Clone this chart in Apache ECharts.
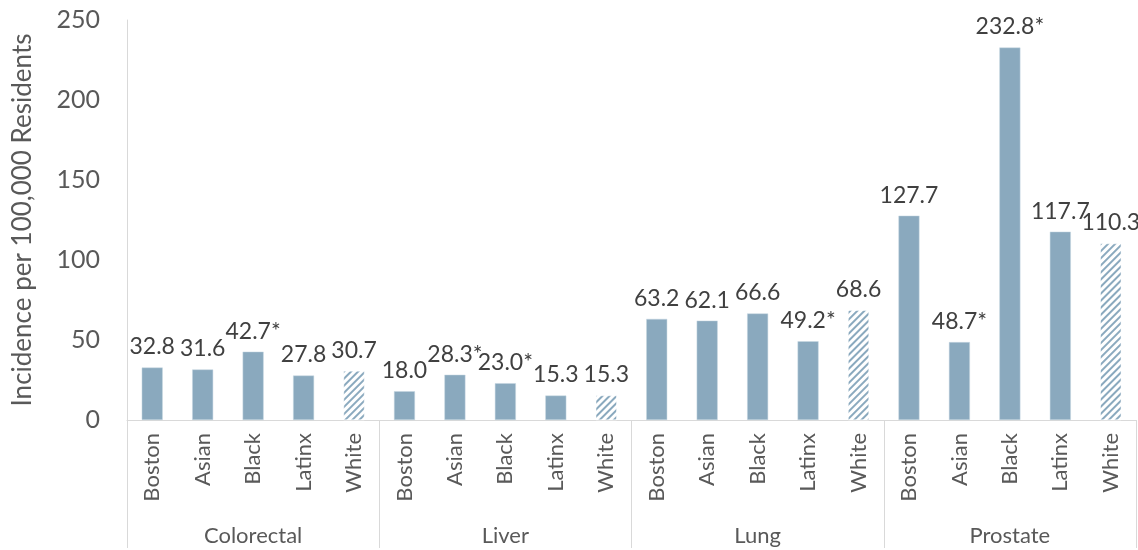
<!DOCTYPE html>
<html>
<head>
<meta charset="utf-8">
<script src="https://cdn.jsdelivr.net/npm/echarts@6/dist/echarts.min.js"></script>
<style>
    html, body { margin: 0; padding: 0; background: #fff; }
    #chart { width: 1138px; height: 550px; }
</style>
</head>
<body>
<div id="chart"></div>
<script>
    // cancer sites (outer label row)
    var sites = ['Colorectal', 'Liver', 'Lung', 'Prostate'];
    // groups within each site (inner label row)
    var groups = ['Boston', 'Asian', 'Black', 'Latinx', 'White'];
    // incidence per 100,000, one row per site
    var colorectal = [32.8, 31.6, 42.7, 27.8, 30.7];
    var liver = [18.0, 28.3, 23.0, 15.3, 15.3];
    var lung = [63.2, 62.1, 66.6, 49.2, 68.6];
    var prostate = [127.7, 48.7, 232.8, 117.7, 110.3];
    // asterisk marks (significant difference)
    var colorectalFlag = ['', '', '*', '', ''];
    var liverFlag = ['', '*', '*', '', ''];
    var lungFlag = ['', '', '', '*', ''];
    var prostateFlag = ['', '*', '*', '', ''];
    var yTicks = [0, 50, 100, 150, 200, 250];

    var barColor = '#8aa9be';
    var allValues = colorectal.concat(liver, lung, prostate);
    var allFlags = colorectalFlag.concat(liverFlag, lungFlag, prostateFlag);
    var cats = [];
    sites.forEach(function () {
        groups.forEach(function (g) { cats.push(g); });
    });

    var barData = allValues.map(function (v, i) {
        var item = {value: v};
        if (cats[i] === 'White') {
            item.itemStyle = {
                color: '#ffffff',
                borderColor: '#ffffff',
                decal: {
                    symbol: 'rect',
                    color: barColor,
                    dashArrayX: [1, 0],
                    dashArrayY: [2, 2.5],
                    rotation: -Math.PI / 4
                }
            };
        }
        return item;
    });

    var myChart = echarts.init(document.getElementById('chart'));
    var options = {
        animation: false,
        textStyle: {fontFamily: 'Lato, "Open Sans", sans-serif'},
        grid: {
            left: 127,
            right: 2,
            top: 20,
            bottom: 130
        },
        xAxis: [
            {
                type: 'category',
                data: cats,
                position: 'bottom',
                axisLine: {show: true, lineStyle: {color: '#d9d9d9', width: 1}},
                axisTick: {show: false},
                axisLabel: {
                    interval: 0,
                    rotate: 90,
                    margin: 13,
                    fontSize: 22,
                    color: '#595959'
                }
            },
            {
                type: 'category',
                data: sites,
                position: 'bottom',
                axisLine: {show: false},
                axisTick: {
                    show: true,
                    length: 128,
                    lineStyle: {color: '#d9d9d9', width: 1}
                },
                axisLabel: {
                    interval: 0,
                    margin: 105,
                    fontSize: 22,
                    color: '#595959'
                }
            }
        ],
        yAxis: {
            type: 'value',
            min: yTicks[0],
            max: yTicks[yTicks.length - 1],
            interval: 50,
            name: 'Incidence per 100,000 Residents',
            nameLocation: 'middle',
            nameGap: 91,
            nameTextStyle: {fontSize: 26, color: '#595959'},
            axisLine: {show: true, lineStyle: {color: '#d9d9d9', width: 1}},
            axisTick: {show: false},
            splitLine: {show: false},
            axisLabel: {
                fontSize: 25,
                color: '#595959',
                margin: 27
            }
        },
        series: [{
            type: 'bar',
            xAxisIndex: 0,
            barWidth: 21,
            itemStyle: {
                color: barColor,
                borderColor: '#c9d8e2',
                borderWidth: 0.5
            },
            label: {
                show: true,
                position: 'top',
                distance: 9,
                fontSize: 23,
                color: '#404040',
                formatter: function (p) {
                    return p.value.toFixed(1) + allFlags[p.dataIndex];
                }
            },
            data: barData
        }]
    };
    myChart.setOption(options);
</script>
</body>
</html>
